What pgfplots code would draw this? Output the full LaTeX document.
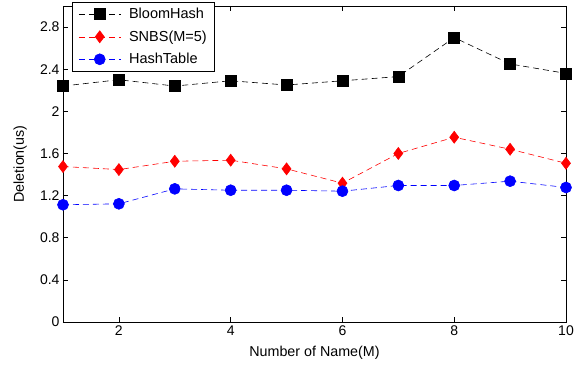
\documentclass[border=0pt]{standalone}
\usepackage{fontspec}
\setmainfont{Liberation Sans}
\usepackage{pgfplots}
\pgfplotsset{compat=1.18}
\begin{document}
\begin{tikzpicture}
\begin{axis}[
  at={(0,0)}, anchor=south west,
  scale only axis, width=503pt, height=316pt,
  xmin=1, xmax=10, ymin=0, ymax=3,
  xtick={2,4,6,8,10},
  ytick={0,0.4,0.8,1.2,1.6,2,2.4,2.8},
  tick align=inside,
  major tick length=5pt,
  axis line style={line width=0.9pt},
  every tick/.style={black, line width=0.6pt},
  /pgf/number format/assume math mode=true,
  tick label style={font=\fontsize{14}{16}\selectfont},
  label style={font=\fontsize{14.3}{16}\selectfont},
  xlabel={Number of Name(M)},
  ylabel={Deletion(us)},
  xlabel style={at={(axis description cs:0.5,-0.098)}, anchor=center},
  ylabel style={at={(axis description cs:-0.085,0.5)}, anchor=center},
  legend style={at={(0.018,1.013)}, anchor=north west, draw=black, line width=0.8pt,
    nodes={font=\fontsize{14.5}{16}\selectfont}, row sep=6.5pt, inner xsep=6pt, inner ysep=4pt,
    /tikz/every odd column/.append style={column sep=6pt}},
  legend cell align=left,
  legend image code/.code={\draw[mark repeat=2,mark phase=2] plot coordinates {(0pt,0pt) (21pt,0pt) (42pt,0pt)};},
]
\addplot[black, line width=0.6pt, dash pattern=on 6pt off 4pt, mark=square*, mark size=5.5pt, mark options={solid}]
coordinates {(1,2.24) (2,2.30) (3,2.24) (4,2.29) (5,2.25) (6,2.29) (7,2.33) (8,2.70) (9,2.45) (10,2.36)};
\addlegendentry{BloomHash}
\addplot[red, line width=0.6pt, dash pattern=on 6pt off 4pt, mark=diamond*, mark size=6pt, mark options={solid}]
coordinates {(1,1.476) (2,1.447) (3,1.526) (4,1.536) (5,1.454) (6,1.318) (7,1.60) (8,1.754) (9,1.64) (10,1.507)};
\addlegendentry{SNBS(M=5)}
\addplot[blue, line width=0.6pt, dash pattern=on 6pt off 4pt, mark=*, mark size=5.5pt, mark options={solid}]
coordinates {(1,1.113) (2,1.122) (3,1.264) (4,1.251) (5,1.251) (6,1.242) (7,1.296) (8,1.296) (9,1.337) (10,1.277)};
\addlegendentry{HashTable}
\end{axis}
\pgfresetboundingbox
\path (-63pt,-45pt) rectangle (512pt,322pt);
\end{tikzpicture}
\end{document}
